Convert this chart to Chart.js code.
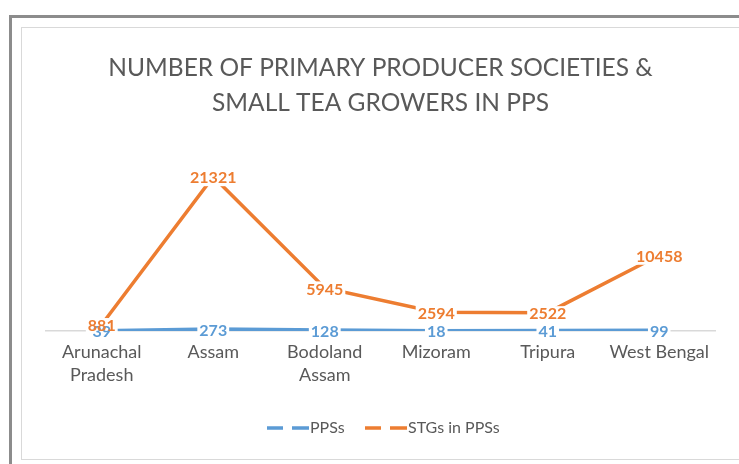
<!DOCTYPE html>
<html>
<head>
<meta charset="utf-8">
<script src="https://cdn.jsdelivr.net/npm/chart.js@4/dist/chart.umd.min.js"></script>
<style>
  html, body { margin: 0; padding: 0; background: #fff; width: 739px; height: 464px; overflow: hidden; }
  #outer { position: absolute; left: 9px; top: 15px; width: 800px; height: 500px;
           border-left: 3px solid #8c8c8c; border-top: 3px solid #8c8c8c; box-sizing: border-box; }
  #inner { position: absolute; left: 21px; top: 27px; width: 800px; height: 433px;
           border: 1px solid #d9d9d9; box-sizing: border-box; background: #fff; }
  #c { position: absolute; left: 0; top: 0; }
</style>
</head>
<body>
<div id="outer"></div>
<div id="inner"></div>
<canvas id="c" width="739" height="464"></canvas>
<script>
const categories = [["Arunachal", "Pradesh"], "Assam", ["Bodoland", "Assam"], "Mizoram", "Tripura", "West Bengal"];
const ppsValues = [39, 273, 128, 18, 41, 99];
const stgValues = [881, 21321, 5945, 2594, 2522, 10458];
const seriesNames = ["PPSs", "STGs in PPSs"];
const titleLines = ["NUMBER OF PRIMARY PRODUCER SOCIETIES &", "SMALL TEA GROWERS IN PPS"];

const BLUE = "#5B9BD5";
const ORANGE = "#ED7D31";
const FONT = "Lato, 'Open Sans', sans-serif";

const labelPlugin = {
  id: "valueLabels",
  afterDatasetsDraw(chart) {
    const ctx = chart.ctx;
    ctx.save();
    ctx.font = "bold 16px " + FONT;
    ctx.textAlign = "center";
    ctx.textBaseline = "middle";
    const items = [];
    chart.data.datasets.forEach((ds, di) => {
      const meta = chart.getDatasetMeta(di);
      meta.data.forEach((pt, i) => {
        const txt = String(ds.data[i]);
        items.push({ txt, x: pt.x, y: pt.y + 1.5, w: ctx.measureText(txt).width, c: ds.borderColor });
      });
    });
    ctx.fillStyle = "#fff";
    items.forEach(it => ctx.fillRect(it.x - it.w / 2 - 2, it.y - 8, it.w + 4, 16));
    items.forEach(it => { ctx.fillStyle = it.c; ctx.fillText(it.txt, it.x, it.y); });
    ctx.restore();
  }
};

const legendPlugin = {
  id: "customLegend",
  afterDraw(chart) {
    const ctx = chart.ctx;
    ctx.save();
    ctx.font = "16px " + FONT;
    ctx.textBaseline = "middle";
    ctx.fillStyle = "#595959";
    const y = 428;
    const items = [{ x: 267, c: BLUE, t: seriesNames[0] }, { x: 365, c: ORANGE, t: seriesNames[1] }];
    items.forEach(it => {
      ctx.strokeStyle = it.c;
      ctx.lineWidth = 3.5;
      ctx.beginPath();
      ctx.moveTo(it.x, y); ctx.lineTo(it.x + 16, y);
      ctx.moveTo(it.x + 25, y); ctx.lineTo(it.x + 42, y);
      ctx.stroke();
      ctx.fillText(it.t, it.x + 43, y);
    });
    ctx.restore();
  }
};

new Chart(document.getElementById("c"), {
  type: "line",
  data: {
    labels: categories,
    datasets: [
      { label: seriesNames[0], data: ppsValues, borderColor: BLUE, backgroundColor: BLUE,
        borderWidth: 3.5, pointRadius: 0, tension: 0, order: 2 },
      { label: seriesNames[1], data: stgValues, borderColor: ORANGE, backgroundColor: ORANGE,
        borderWidth: 3.5, pointRadius: 0, tension: 0, order: 1 }
    ]
  },
  options: {
    responsive: false,
    animation: false,
    layout: { padding: { left: 46, right: 24, top: 0, bottom: 67 } },
    plugins: {
      legend: { display: false },
      tooltip: { enabled: false },
      title: {
        display: true,
        text: titleLines,
        color: "#595959",
        font: { family: FONT, size: 24.5, weight: "normal", lineHeight: 1.43 },
        padding: { top: 50.5, bottom: 29.5 }
      }
    },
    scales: {
      x: {
        offset: true,
        grid: { display: false, drawTicks: false },
        border: { display: true, color: "#d9d9d9", width: 1.5 },
        ticks: { color: "#595959", font: { family: FONT, size: 18, lineHeight: 1.28 }, padding: 10, maxRotation: 0, autoSkip: false }
      },
      y: {
        display: false,
        min: 0,
        max: 25000
      }
    }
  },
  plugins: [labelPlugin, legendPlugin]
});
</script>
</body>
</html>
